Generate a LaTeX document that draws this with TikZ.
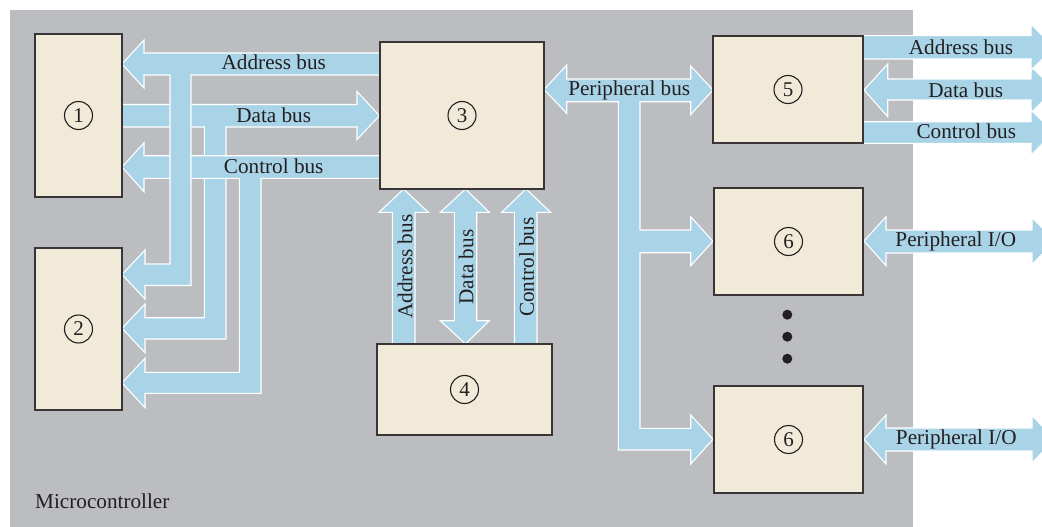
\documentclass[tikz,border=0pt]{standalone}
\usepackage{fontspec}
\setmainfont{Liberation Serif}
\definecolor{bgray}{HTML}{BCBDC1}
\definecolor{busblue}{HTML}{A9D4E8}
\definecolor{boxfill}{HTML}{F1EAD9}
\definecolor{ink}{HTML}{231F20}
\begin{document}
\begin{tikzpicture}[x=1pt,y=-1pt,
 bus/.style={fill=busblue,draw=white,line width=1.1pt,line join=miter},
 blk/.style={draw=ink!90,fill=boxfill,line width=1.6pt,inner sep=0pt},
 num/.style={draw=ink,circle,line width=1.1pt,minimum size=28pt,inner sep=0pt,font=\fontsize{21}{23}\selectfont,text=ink},
 lbl/.style={inner sep=0pt,font=\fontsize{21.2}{24}\selectfont,text=ink},
 dotmark/.style={circle,fill=ink,minimum size=10pt,inner sep=0pt}]
\useasboundingbox (0,0) rectangle (1042,527);
\clip (0,0) rectangle (1042,527);
\fill[white] (0,0) rectangle (1042,527);
\fill[bgray] (10,10) rectangle (913,527);

% left buses
\draw[bus] (122,104.5) -- (357,104.5) -- (357,91.5) -- (379.5,115.7) -- (357,139.5) -- (357,127) -- (226,127) -- (226,339) -- (145,339) -- (145,352.7) -- (122,328.3) -- (145,304) -- (145,317.7) -- (204.3,317.7) -- (204.3,127) -- (122,127) -- cycle;
\draw[bus] (380,155.7) -- (144,155.7) -- (144,142.7) -- (122,167) -- (144,191.7) -- (144,178.3) -- (239.3,178.3) -- (239.3,372.3) -- (145,372.3) -- (145,358.3) -- (122,382.8) -- (145,407.7) -- (145,393.3) -- (261,393.3) -- (261,178.3) -- (380,178.3) -- cycle;
\draw[bus] (380,53) -- (144,53) -- (144,40) -- (122,64) -- (144,88) -- (144,75) -- (170,75) -- (170,264) -- (145,264) -- (145,250) -- (122,274.5) -- (145,299) -- (145,285.5) -- (191,285.5) -- (191,75) -- (380,75) -- cycle;

% vertical buses 3-4
\draw[bus] (392.3,344) -- (392.3,212.3) -- (379,212.3) -- (403.7,189) -- (428.3,212.3) -- (415,212.3) -- (415,344) -- cycle;
\draw[bus] (454.3,212.3) -- (440.3,212.3) -- (465.5,189) -- (489.3,212.3) -- (476.7,212.3) -- (476.7,320.7) -- (489.3,320.7) -- (465.5,344) -- (440.3,320.7) -- (454.3,320.7) -- cycle;
\draw[bus] (514.3,344) -- (514.3,212.3) -- (501.7,212.3) -- (526,189) -- (550.7,212.3) -- (537,212.3) -- (537,344) -- cycle;

% peripheral bus
\draw[bus] (544,89.5) -- (566.7,65) -- (566.7,79) -- (690.7,79) -- (690.7,66) -- (713,90) -- (690.7,114.5) -- (690.7,101.7) -- (640,101.7) -- (640,230) -- (690.7,230) -- (690.7,216.7) -- (713,241.3) -- (690.7,265.7) -- (690.7,252.7) -- (640,252.7) -- (640,428.3) -- (690.7,428.3) -- (690.7,415) -- (713,439.3) -- (690.7,464) -- (690.7,450) -- (618.3,450) -- (618.3,101.7) -- (566.7,101.7) -- (566.7,113.3) -- cycle;

% right buses
\draw[bus] (864,90) -- (887.7,64) -- (887.7,79) -- (1031,79) -- (1031,66) -- (1054,89.5) -- (1031,113) -- (1031,100) -- (887.7,100) -- (887.7,116.7) -- cycle;
\draw[bus] (863,35.7) -- (1031,35.7) -- (1031,24) -- (1054,47.3) -- (1031,70.5) -- (1031,59) -- (863,59) -- cycle;
\draw[bus] (863,121.7) -- (1031,121.7) -- (1031,110) -- (1054,132.5) -- (1031,155) -- (1031,143.3) -- (863,143.3) -- cycle;
\draw[bus] (864,241) -- (886,216.7) -- (886,230) -- (1032,230) -- (1032,217.5) -- (1055,241) -- (1032,264.5) -- (1032,253) -- (886,253) -- (886,265.7) -- cycle;
\draw[bus] (864,439.3) -- (886,415) -- (886,428) -- (1032,428) -- (1032,415.5) -- (1055,439.3) -- (1032,463) -- (1032,451) -- (886,451) -- (886,464) -- cycle;

% blocks
\node[blk,minimum width=87pt,minimum height=163pt] (b1) at (78.5,115.5) {};
\node[blk,minimum width=87pt,minimum height=162pt] (b2) at (78.5,329) {};
\node[blk,minimum width=164pt,minimum height=147pt] (b3) at (462,115.5) {};
\node[blk,minimum width=175pt,minimum height=91pt] (b4) at (464.5,389.5) {};
\node[blk,minimum width=150pt,minimum height=107pt] (b5) at (788,89.5) {};
\node[blk,minimum width=149pt,minimum height=107pt] (b6a) at (788.5,241.5) {};
\node[blk,minimum width=149pt,minimum height=107pt] (b6b) at (788.5,439.5) {};

\node[num] (n1) at (b1.center) {1};
\node[num] (n2) at (b2.center) {2};
\node[num] (n3) at (b3.center) {3};
\node[num] (n4) at (b4.center) {4};
\node[num] (n5) at (b5.center) {5};
\node[num] (n6a) at (b6a.center) {6};
\node[num] (n6b) at (b6b.center) {6};

\node[dotmark] (d1) at (787.3,314.7) {};
\node[dotmark] (d2) at (787.3,336.7) {};
\node[dotmark] (d3) at (787.3,358.7) {};

% labels
\node[lbl] (la1) at (273.8,62.7) {Address bus};
\node[lbl] (ld1) at (273.7,115.7) {Data bus};
\node[lbl] (lc1) at (273.7,166.7) {Control bus};
\node[lbl,rotate=90] (la2) at (405,266.7) {Address bus};
\node[lbl,rotate=90] (ld2) at (466,267) {Data bus};
\node[lbl,rotate=90] (lc2) at (526.7,267) {Control bus};
\node[lbl] (lp) at (629.2,90) {Peripheral bus};
\node[lbl] (la3) at (961,47.7) {Address bus};
\node[lbl] (ld3) at (965.7,90) {Data bus};
\node[lbl] (lc3) at (966.3,131.7) {Control bus};
\node[lbl] (lio1) at (955.8,241.5) {Peripheral I/O};
\node[lbl] (lio2) at (956.3,439.5) {Peripheral I/O};
\node[lbl,anchor=west] (lm) at (35,501) {Microcontroller};
\end{tikzpicture}
\end{document}
